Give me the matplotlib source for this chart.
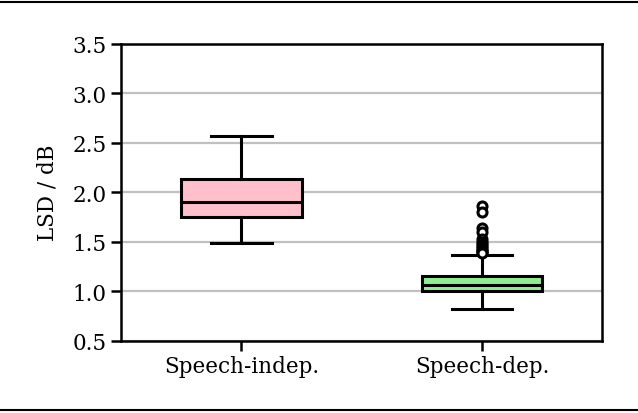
import matplotlib
matplotlib.use('Agg')
import matplotlib.pyplot as plt
from matplotlib.lines import Line2D

plt.rcParams['font.family'] = 'DejaVu Serif'
plt.rcParams['font.size'] = 15.5

# box statistics
labels = ['Speech-indep.', 'Speech-dep.']
q1 = [1.75, 1.00]
med = [1.90, 1.06]
q3 = [2.13, 1.15]
whislo = [1.49, 0.82]
whishi = [2.57, 1.36]
fliers = [
    [],
    [1.86, 1.80, 1.64, 1.60, 1.53, 1.50, 1.48, 1.46, 1.44, 1.42, 1.40, 1.39, 1.38],
]
colors = ['pink', 'lightgreen']

stats = []
for i in range(len(labels)):
    stats.append(dict(label=labels[i], q1=q1[i], med=med[i], q3=q3[i],
                      whislo=whislo[i], whishi=whishi[i], fliers=fliers[i]))

fig = plt.figure(figsize=(6.38, 4.14), dpi=100)
ax = fig.add_axes([0.19, 0.175, 0.754, 0.717])

bp = ax.bxp(stats, patch_artist=True, widths=0.5,
            boxprops=dict(linewidth=2.2, edgecolor='black'),
            medianprops=dict(color='black', linewidth=2.2),
            whiskerprops=dict(color='black', linewidth=2.2),
            capprops=dict(color='black', linewidth=2.2),
            flierprops=dict(marker='o', markerfacecolor='white', markeredgecolor='black',
                            markersize=6.5, markeredgewidth=2.2))
for patch, c in zip(bp['boxes'], colors):
    patch.set_facecolor(c)

ax.set_ylim(0.5, 3.5)
ax.set_yticks([0.5, 1.0, 1.5, 2.0, 2.5, 3.0, 3.5])
ax.yaxis.grid(True, color='#c0c0c0', linewidth=1.6)
ax.set_axisbelow(True)
ax.set_ylabel('LSD / dB', labelpad=10)
for s in ax.spines.values():
    s.set_linewidth(1.8)
ax.tick_params(width=1.8, length=7)

# page rules above and below the figure
fig.add_artist(Line2D([0, 1], [0.993, 0.993], color='black', linewidth=1.5))
fig.add_artist(Line2D([0, 1], [0.007, 0.007], color='black', linewidth=1.5))

fig.savefig('out.png', dpi=100)
